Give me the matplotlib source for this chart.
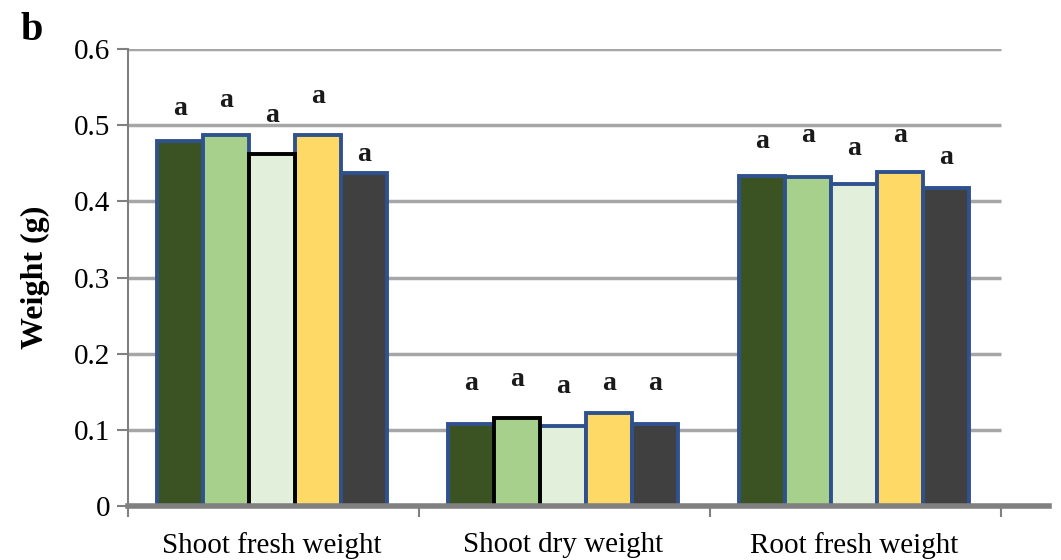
import numpy as np
import matplotlib.pyplot as plt

# data
categories = ["Shoot fresh weight", "Shoot dry weight", "Root fresh weight"]
treatment_colors = ["#3B5323", "#A8D08D", "#E2EFDA", "#FFD966", "#404040"]
values = [
    [0.479, 0.487, 0.462, 0.487, 0.437],
    [0.108, 0.115, 0.105, 0.122, 0.108],
    [0.433, 0.432, 0.423, 0.438, 0.417],
]
letters = [
    ["a", "a", "a", "a", "a"],
    ["a", "a", "a", "a", "a"],
    ["a", "a", "a", "a", "a"],
]
letter_y = [
    [0.522, 0.533, 0.513, 0.538, 0.461],
    [0.161, 0.166, 0.157, 0.161, 0.161],
    [0.478, 0.486, 0.469, 0.486, 0.457],
]
# bars drawn with a black instead of blue outline (group, treatment)
black_edges = [(0, 2), (1, 1)]

plt.rcParams["font.family"] = ["Liberation Serif", "DejaVu Serif"]

fig = plt.figure(figsize=(10.61, 5.6), dpi=100)
ax = fig.add_axes([0.1206, 0.0964, 0.868, 0.816])

n = len(treatment_colors)
width = 0.158
centers = np.arange(len(categories)) + 0.495

# gridlines only across the category span
for yv in [0.1, 0.2, 0.3, 0.4, 0.5, 0.6]:
    ax.plot([0, 3], [yv, yv], color="#a6a6a6", lw=2.5, zorder=1, solid_capstyle="butt")

for g, cat in enumerate(categories):
    for t in range(n):
        x = centers[g] + (t - (n - 1) / 2) * width
        edge = "black" if (g, t) in black_edges else "#2F528F"
        ax.bar(x, values[g][t], width=width, color=treatment_colors[t],
               edgecolor=edge, linewidth=2.8, zorder=3 if edge == "black" else 2)
        ax.text(x, letter_y[g][t], letters[g][t], ha="center", va="center",
                fontsize=20, fontweight="bold", color="#1a1a1a", zorder=4)

ax.set_xlim(0, 3.165)
ax.set_ylim(0, 0.6)
ax.set_yticks([0, 0.1, 0.2, 0.3, 0.4, 0.5, 0.6])
ax.set_yticklabels(["0", "0.1", "0.2", "0.3", "0.4", "0.5", "0.6"])
ax.set_xticks([0, 1, 2, 3])
ax.set_xticklabels([])
ax.set_xticks(centers, minor=True)
ax.set_xticklabels(categories, minor=True)
ax.tick_params(axis="x", which="minor", length=0, labelsize=21, pad=19)
ax.tick_params(axis="x", which="major", length=8, width=1.5, color="#808080")
ax.tick_params(axis="y", length=8, width=1.5, color="#808080", labelsize=21, pad=5)

for side in ["top", "right"]:
    ax.spines[side].set_visible(False)
ax.spines["left"].set_color("#808080")
ax.spines["left"].set_linewidth(1.5)
ax.spines["bottom"].set_color("#808080")
ax.spines["bottom"].set_linewidth(4)
ax.spines["bottom"].set_zorder(5)

ax.set_ylabel("Weight (g)", fontsize=23, fontweight="bold", labelpad=17)
fig.text(0.03, 0.945, "b", fontsize=29, fontweight="bold", ha="center", va="center")

fig.savefig("out.png", dpi=100)
